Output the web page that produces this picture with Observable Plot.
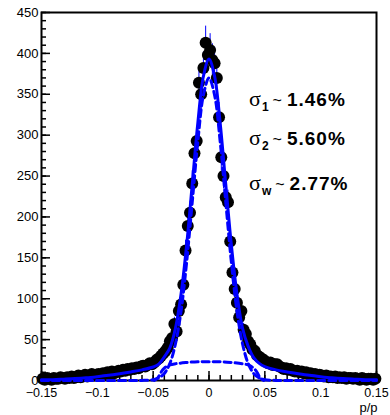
<!DOCTYPE html>
<html><head><meta charset="utf-8">
<script src="https://cdn.jsdelivr.net/npm/d3@7"></script>
<script src="https://cdn.jsdelivr.net/npm/@observablehq/plot@0.6"></script>
<style>
body{margin:0;background:#fff;}
#chart svg{display:block;}
</style></head><body><div id="chart"></div>
<script>
// Histogram: bins of width 0.002 from -0.15 to 0.15 (150 bins)
const binStart = -0.15;
const binWidth = 0.002;
const counts = [
  2,1,3,2,1,3,2,2,4,3,2,4,3,5,3,4,6,4,5,7,5,6,8,6,7,
  8,6,9,8,10,8,11,9,10,12,11,13,12,14,13,15,14,16,15,17,18,17,19,21,20,
  22,25,27,30,33,36,40,48,52,69,60,85,93,117,159,189,205,241,278,293,364,350,382,413,398,
  404,392,388,370,322,273,250,224,218,170,132,112,95,77,85,62,57,48,44,38,36,31,29,27,25,
  23,21,22,19,20,20,17,16,14,15,13,14,12,11,12,10,11,9,10,8,9,7,8,6,7,
  6,5,6,4,5,4,5,3,4,3,4,2,3,3,2,3,2,1,3,2,1,2,2,1,2
];
// Total fit (solid)
const fitX = [-0.15,-0.14,-0.13,-0.12,-0.11,-0.10,-0.09,-0.08,-0.07,-0.06,-0.05,-0.045,-0.04,-0.035,-0.03,-0.025,-0.02,-0.015,-0.01,-0.005,0,0.005,0.01,0.015,0.02,0.025,0.03,0.035,0.04,0.045,0.05,0.06,0.07,0.08,0.09,0.10,0.11,0.12,0.13,0.14,0.15];
const fitY = [1,1,1.6,2.3,3.3,4.7,6.3,8.3,10.5,13,16.5,20,29,40,64,106,166,240,315,372,393,372,315,240,166,106,64,42,28,21,17,13,10.5,8.3,6.3,4.7,3.3,2.3,1.6,1,1];
// Narrow component (dashed)
const g1X = [-0.15,-0.07,-0.06,-0.05,-0.045,-0.04,-0.035,-0.03,-0.025,-0.02,-0.015,-0.01,-0.005,0,0.005,0.01,0.015,0.02,0.025,0.03,0.035,0.04,0.045,0.05,0.06,0.07,0.15];
const g1Y = [0,0,0.1,1,3.2,8.6,21,45,85,145,218,292,349,370,349,292,218,145,85,45,21,8.6,3.2,1,0.1,0,0];
// Wide component (dashed)
const g2X = [-0.049,-0.046,-0.043,-0.04,-0.035,-0.03,-0.02,-0.01,0,0.01,0.02,0.03,0.035,0.04,0.043,0.046,0.049];
const g2Y = [0,3,10,15,19,20.5,22,23,23,23,22,20.5,19,15,10,3,0];

const xTicks = [-0.15,-0.1,-0.05,0,0.05,0.1,0.15];
const xTickLabels = ["\u22120.15","\u22120.1","\u22120.05","0","0.05","0.1","0.15"];
const yTicks = [0,50,100,150,200,250,300,350,400,450];
const xLabel = "p/p";
const sigmaSubs = ["1","2","w"];
const sigmaVals = ["1.46%","5.60%","2.77%"];
const annX = 0.0363;
const annY = [335, 287, 232];

const points = counts.map((c, i) => ({x: binStart + binWidth * (i + 0.5), y: c}));
const fit = fitX.map((x, i) => ({x, y: fitY[i]}));
const g1 = g1X.map((x, i) => ({x, y: g1Y[i]}));
const g2 = g2X.map((x, i) => ({x, y: g2Y[i]}));
const xLabMap = new Map(xTicks.map((t, i) => [t, xTickLabels[i]]));

const sans = "Liberation Sans, Arial, Helvetica, sans-serif";
const blue = "#0000ff";

const plot = Plot.plot({
  width: 390, height: 415,
  marginLeft: 41, marginRight: 14, marginTop: 12, marginBottom: 35,
  style: {fontFamily: sans, fontSize: "13px", background: "white", color: "black"},
  x: {domain: [-0.15, 0.15]},
  y: {domain: [0, 450]},
  marks: [
    Plot.frame({stroke: "black", strokeWidth: 2}),
    Plot.axisY(yTicks, {tickSize: 0, tickPadding: 3, fontSize: 13, label: null, tickFormat: d => String(d)}),
    Plot.axisY(yTicks, {tickSize: -9, fill: "none", label: null, strokeWidth: 1.5}),
    Plot.axisY({ticks: 45, tickSize: -5, fill: "none", label: null, strokeWidth: 1.5}),
    Plot.axisX(xTicks, {tickSize: 0, tickPadding: 8, fontSize: 12.5, label: null, tickFormat: d => xLabMap.get(d)}),
    Plot.axisX(xTicks, {tickSize: -9, fill: "none", label: null, strokeWidth: 1.5}),
    Plot.axisX({ticks: 30, tickSize: -5, fill: "none", label: null, strokeWidth: 1.5}),
    Plot.ruleX(points, {x: "x", y1: d => d.y - Math.sqrt(d.y), y2: d => d.y + Math.sqrt(d.y), stroke: blue, strokeWidth: 1}),
    Plot.dot(points, {x: "x", y: "y", r: 6, fill: "black", stroke: "none"}),
    Plot.line(g2, {x: "x", y: "y", stroke: blue, strokeWidth: 3, strokeDasharray: "7,4", curve: "catmull-rom"}),
    Plot.line(g1, {x: "x", y: "y", stroke: blue, strokeWidth: 3, strokeDasharray: "7,4", curve: "catmull-rom"}),
    Plot.line(fit, {x: "x", y: "y", stroke: blue, strokeWidth: 3, curve: "catmull-rom"}),
    Plot.text([xLabel], {frameAnchor: "bottom-right", dy: 31, dx: 1, textAnchor: "end", fontSize: 13, fill: "black"})
  ]
});

const svg = d3.select(plot);
const xs = plot.scale("x"), ys = plot.scale("y");
sigmaSubs.forEach((s, i) => {
  const t = svg.append("text")
    .attr("x", xs.apply(annX))
    .attr("y", ys.apply(annY[i]))
    .attr("text-anchor", "start")
    .attr("fill", "black");
  t.append("tspan").attr("font-family", "Liberation Serif, Times New Roman, serif").attr("font-size", 22).text("\u03c3");
  t.append("tspan").attr("font-family", sans).attr("font-weight", "bold").attr("font-size", 12).attr("dx", 1).attr("dy", 5).text(s);
  t.append("tspan").attr("font-family", sans).attr("font-size", 16).attr("dx", 4).attr("dy", -5).text("~");
  t.append("tspan").attr("font-family", sans).attr("font-weight", "bold").attr("font-size", 19).attr("dx", 5).attr("letter-spacing", 1).text(sigmaVals[i]);
});

document.getElementById("chart").appendChild(plot);
</script>
</body></html>
